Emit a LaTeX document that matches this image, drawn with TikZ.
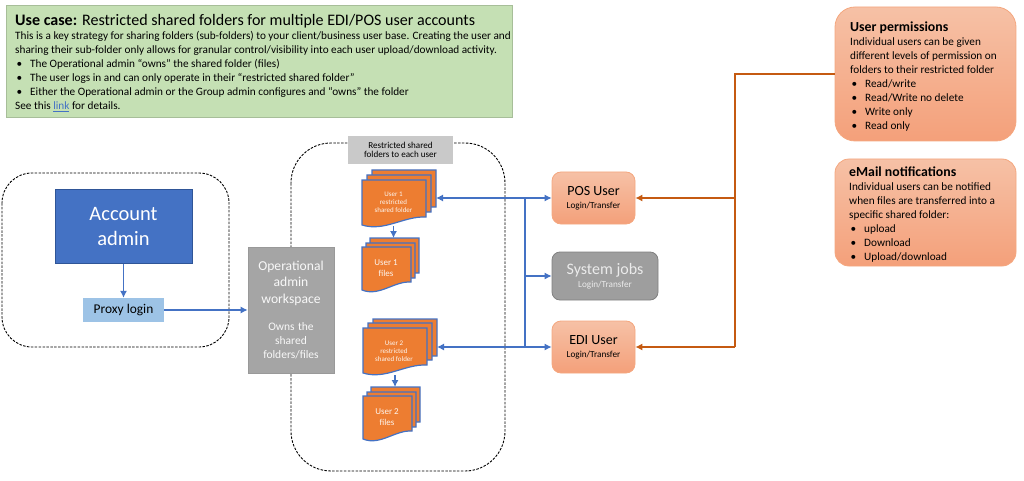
\documentclass[tikz,border=0pt]{standalone}
\usepackage{fontspec}
\setmainfont{Carlito}
\usepackage{tikz}
\usetikzlibrary{positioning}
\usetikzlibrary{calc}
\usetikzlibrary{arrows.meta}
\definecolor{linkblue}{HTML}{4472C4}
\definecolor{darkblue}{HTML}{2F5597}
\definecolor{lightblue}{HTML}{9DC3E6}
\definecolor{sheetorange}{HTML}{ED7D31}
\definecolor{lineorange}{HTML}{C55A11}
\definecolor{salmontop}{HTML}{F6C1A6}
\definecolor{salmonbot}{HTML}{F4A07A}
\definecolor{salmonline}{HTML}{F4A77F}
\definecolor{usegreen}{HTML}{C5E0B4}
\definecolor{opgrey}{HTML}{A5A5A5}
\definecolor{taggrey}{HTML}{C9C9C9}
\newcommand{\bodysize}{\fontsize{11.25}{14}\selectfont}
\tikzset{
	dashbox/.style={draw=black,line width=0.9pt,dash pattern=on 2.5pt off 1.4pt,rounded corners=#1},
	salmonbox/.style={draw=salmonline,line width=0.8pt,rounded corners=#1,top color=salmontop,bottom color=salmonbot,inner sep=0pt,align=center},
	userbox/.style={salmonbox=9pt,minimum width=83pt,minimum height=52pt},
	bodytext/.style={anchor=north west,inner sep=0pt,align=left,font=\bodysize},
	sheet/.style={draw=linkblue,line width=1.2pt,fill=sheetorange},
	sheetlabel/.style={text=white!92!sheetorange,align=center,inner sep=0pt},
	bluearrow/.style={draw=linkblue,line width=1.1pt,-{Latex[length=7pt,width=7pt]}},
	bluebothway/.style={draw=linkblue,line width=1.1pt,{Latex[length=7pt,width=7pt]}-{Latex[length=7pt,width=7pt]}},
	orangearrow/.style={draw=lineorange,line width=1.1pt,-{Latex[length=7pt,width=7pt]}}
}
\newcommand{\bitem}[1]{\hspace*{1.5pt}\makebox[13.5pt][l]{\textbullet}#1}
% one wavy sheet: left, top, width, height
\newcommand{\docsheet}[4]{
	\draw[sheet] (#1,#2) -- ++(#3,0) -- ++(0,#4-8)
		.. controls +(-#3*0.35,-1) and +(#3*0.35,7) .. ++(-#3,8) -- cycle;
}
\begin{document}
\begin{tikzpicture}[x=1pt,y=-1pt]
	\useasboundingbox (0,0) rectangle (1024,481);
	
	%Use case
	\node[fill=usegreen,draw=usegreen!85!black,line width=0.4pt,minimum width=506pt,minimum height=112pt] (usecase) at (259,61) {};
	\node[bodytext] (usetitle) at (15,14) {\fontsize{16.05}{19}\selectfont\textbf{Use case:} Restricted shared folders for multiple EDI/POS user accounts};
	\node[bodytext] (usetext) at (15,31.5) {This is a key strategy for sharing folders (sub-folders) to your client/business user base. Creating the user and\\
		sharing their sub-folder only allows for granular control/visibility into each user upload/download activity.\\
		\bitem{The Operational admin “owns” the shared folder (files)}\\
		\bitem{The user logs in and can only operate in their “restricted shared folder”}\\
		\bitem{Either the Operational admin or the Group admin configures and “owns” the folder}\\
		See this \textcolor{linkblue}{\underline{link}} for details.};
	
	%Cadres
	\draw[dashbox=30pt] (2,173) rectangle (229,347);
	\draw[dashbox=40pt] (291,143) rectangle (505,471);
	
	%Admin
	\node[fill=linkblue,draw=darkblue,line width=0.7pt,minimum width=137pt,minimum height=74pt,text=white,align=center,font=\fontsize{20.5}{25}\selectfont] (account) at (123.5,226.5) {Account\\admin};
	\node[fill=lightblue,minimum width=81pt,minimum height=24pt,inner sep=0pt,font=\fontsize{13.4}{16}\selectfont] (proxy) at (123.5,310) {Proxy login};
	\node[fill=opgrey,draw=black!40,line width=0.7pt,minimum width=86pt,minimum height=126pt,text width=84pt,text=white!92!opgrey,align=center,inner sep=0pt] (opadmin) at (291,310) {%
		{\fontsize{13.6}{16.5}\selectfont Operational\\admin\\workspace\par}
		\vspace{13pt}
		{\fontsize{11.5}{14}\selectfont Owns the\\shared\\folders/files\par}};
	\node[fill=taggrey,minimum width=105pt,minimum height=28pt,inner sep=0pt,align=center,font=\fontsize{9.1}{9.5}\selectfont] (tag) at (400.5,150) {Restricted shared\\folders to each user};
	
	%Piles de documents
	\foreach \xs/\ys in {372/170,367/175,362/180}{
		\docsheet{\xs}{\ys}{64}{45}
	}
	\foreach \xs/\ys in {370/238,366/243,362/247}{
		\docsheet{\xs}{\ys}{49}{43}
	}
	\foreach \xs/\ys in {373/319,368/323,363/328}{
		\docsheet{\xs}{\ys}{64}{45}
	}
	\foreach \xs/\ys in {371/387,367/392,363/396}{
		\docsheet{\xs}{\ys}{49}{43}
	}
	\node[sheetlabel,font=\fontsize{7}{8.2}\selectfont] (folderone) at (393.5,202) {User 1\\restricted\\shared folder};
	\node[sheetlabel,font=\fontsize{9}{10.8}\selectfont] (filesone) at (386,268) {User 1\\files};
	\node[sheetlabel,font=\fontsize{7}{8.2}\selectfont] (foldertwo) at (394,351) {User 2\\restricted\\shared folder};
	\node[sheetlabel,font=\fontsize{9}{10.8}\selectfont] (filestwo) at (387,417) {User 2\\files};
	
	\coordinate (stackone) at (436,198);
	\coordinate (stacktwo) at (437,347);
	\coordinate (outone) at (393.5,226);
	\coordinate (inone) at (393.5,238);
	\coordinate (outtwo) at (395,375);
	\coordinate (intwo) at (395,387);
	
	%Utilisateurs
	\node[userbox] (posuser) at (593.5,198) {{\fontsize{14}{17}\selectfont POS User}\\[1pt]{\fontsize{9.2}{11}\selectfont Login/Transfer}};
	\node[fill=black!38,draw=black!50,line width=0.8pt,rounded corners=8pt,minimum width=106pt,minimum height=48pt,inner sep=0pt,align=center,text=white!92!black] (sysjobs) at (605,276) {{\fontsize{16}{18}\selectfont System jobs}\\[1pt]{\fontsize{9.2}{11}\selectfont Login/Transfer}};
	\node[userbox] (ediuser) at (593.5,347) {{\fontsize{14}{17}\selectfont EDI User}\\[1pt]{\fontsize{9.2}{11}\selectfont Login/Transfer}};
	
	%Encadres de droite
	\node[salmonbox=20pt,minimum width=181pt,minimum height=134pt] (perms) at (925.5,74) {};
	\node[bodytext] (permstitle) at (850,22) {\fontsize{13.8}{15}\selectfont\textbf{User permissions}};
	\node[bodytext] (permstext) at (850,37) {Individual users can be given\\
		different levels of permission on\\
		folders to their restricted folder\\
		\bitem{Read/write}\\
		\bitem{Read/Write no delete}\\
		\bitem{Write only}\\
		\bitem{Read only}};
	\node[salmonbox=14pt,minimum width=181pt,minimum height=107pt] (email) at (925.5,212.5) {};
	\node[bodytext] (emailtitle) at (849,167) {\fontsize{13.8}{15}\selectfont\textbf{eMail notifications}};
	\node[bodytext] (emailtext) at (849,182.5) {Individual users can be notified\\
		when files are transferred into a\\
		specific shared folder:\\
		\bitem{upload}\\
		\bitem{Download}\\
		\bitem{Upload/download}};
	
	%Fleches bleues
	\draw[bluearrow] (account.south) -- (proxy.north);
	\draw[bluearrow] (proxy.east) -- (opadmin.west |- proxy.east);
	\draw[bluearrow] (outone) -- (inone);
	\draw[bluearrow] (outtwo) -- (intwo);
	\draw[bluebothway] (stackone) -- (posuser.west);
	\draw[bluebothway] (stacktwo) -- (ediuser.west);
	\coordinate (busup) at (525,198);
	\coordinate (busdown) at (525,347);
	\draw[draw=linkblue,line width=1.1pt] (busup) -- (busdown);
	\draw[bluearrow] (busup |- sysjobs.west) -- (sysjobs.west);
	
	%Fleches orange
	\coordinate (trunktop) at (735,74);
	\coordinate (trunkbot) at (735,347);
	\draw[draw=lineorange,line width=1.1pt] (perms.west) -- (trunktop) -- (trunkbot);
	\draw[orangearrow] (trunktop |- posuser.east) -- (posuser.east);
	\draw[orangearrow] (trunkbot) -- (ediuser.east);
\end{tikzpicture}
\end{document}
